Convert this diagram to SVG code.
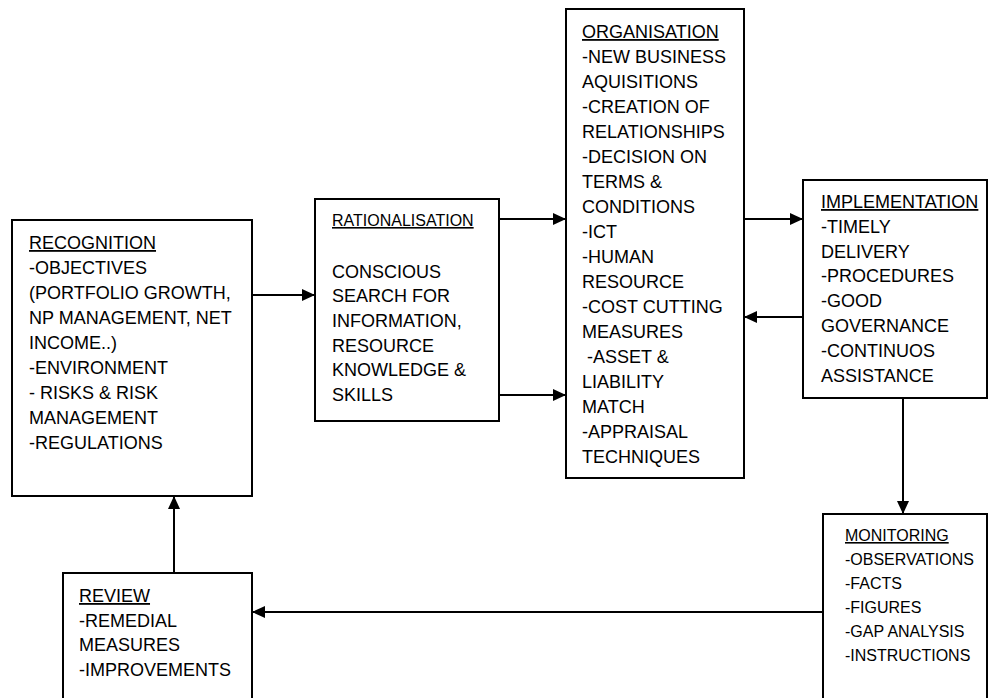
<svg xmlns="http://www.w3.org/2000/svg" width="989" height="698" viewBox="0 0 989 698">
<style>
.box{fill:#fff;stroke:#000;stroke-width:2}
.t{font-family:"Liberation Sans",Arial,sans-serif;font-size:18px;fill:#000}
.s{font-size:16px}
.u{text-decoration:underline}
.c{stroke:#000;stroke-width:2;fill:none;marker-end:url(#ah)}
</style>
<defs>
<marker id="ah" markerUnits="userSpaceOnUse" markerWidth="13" markerHeight="12" refX="13" refY="6" orient="auto">
<path d="M0,0 L13,6 L0,12 z" fill="#000"/>
</marker>
</defs>
<rect width="989" height="698" fill="#fff"/>
<g id="recognition">
<rect class="box" x="12" y="220" width="240" height="276"/>
<text class="t" x="29" y="249"><tspan class="u">RECOGNITION</tspan>
<tspan x="29" y="274">-OBJECTIVES</tspan>
<tspan x="29" y="299">(PORTFOLIO GROWTH,</tspan>
<tspan x="29" y="324">NP MANAGEMENT, NET</tspan>
<tspan x="29" y="349">INCOME..)</tspan>
<tspan x="29" y="374">-ENVIRONMENT</tspan>
<tspan x="29" y="399">- RISKS &amp; RISK</tspan>
<tspan x="29" y="424">MANAGEMENT</tspan>
<tspan x="29" y="449">-REGULATIONS</tspan></text>
</g>
<g id="rationalisation">
<rect class="box" x="315" y="199" width="184" height="222"/>
<text class="t s u" x="332" y="226">RATIONALISATION</text>
<text class="t" x="332" y="278">CONSCIOUS
<tspan x="332" y="302">SEARCH FOR</tspan>
<tspan x="332" y="327">INFORMATION,</tspan>
<tspan x="332" y="352">RESOURCE</tspan>
<tspan x="332" y="376">KNOWLEDGE &amp;</tspan>
<tspan x="332" y="401">SKILLS</tspan></text>
</g>
<g id="organisation">
<rect class="box" x="566" y="9" width="178" height="469"/>
<text class="t" x="582" y="38"><tspan class="u">ORGANISATION</tspan>
<tspan x="582" y="63">-NEW BUSINESS</tspan>
<tspan x="582" y="88">AQUISITIONS</tspan>
<tspan x="582" y="113">-CREATION OF</tspan>
<tspan x="582" y="138">RELATIONSHIPS</tspan>
<tspan x="582" y="163">-DECISION ON</tspan>
<tspan x="582" y="188">TERMS &amp;</tspan>
<tspan x="582" y="213">CONDITIONS</tspan>
<tspan x="582" y="238">-ICT</tspan>
<tspan x="582" y="263">-HUMAN</tspan>
<tspan x="582" y="288">RESOURCE</tspan>
<tspan x="582" y="313">-COST CUTTING</tspan>
<tspan x="582" y="338">MEASURES</tspan>
<tspan x="582" y="363" xml:space="preserve"> -ASSET &amp;</tspan>
<tspan x="582" y="388">LIABILITY</tspan>
<tspan x="582" y="413">MATCH</tspan>
<tspan x="582" y="438">-APPRAISAL</tspan>
<tspan x="582" y="463">TECHNIQUES</tspan></text>
</g>
<g id="implementation">
<rect class="box" x="803" y="180" width="184" height="218"/>
<text class="t" x="821" y="208"><tspan class="u">IMPLEMENTATION</tspan>
<tspan x="821" y="233">-TIMELY</tspan>
<tspan x="821" y="258">DELIVERY</tspan>
<tspan x="821" y="282">-PROCEDURES</tspan>
<tspan x="821" y="307">-GOOD</tspan>
<tspan x="821" y="332">GOVERNANCE</tspan>
<tspan x="821" y="357">-CONTINUOS</tspan>
<tspan x="821" y="382">ASSISTANCE</tspan></text>
</g>
<g id="monitoring">
<rect class="box" x="823" y="514" width="164" height="200"/>
<text class="t s" x="845" y="541"><tspan class="u">MONITORING</tspan>
<tspan x="845" y="565">-OBSERVATIONS</tspan>
<tspan x="845" y="589">-FACTS</tspan>
<tspan x="845" y="613">-FIGURES</tspan>
<tspan x="845" y="637">-GAP ANALYSIS</tspan>
<tspan x="845" y="661">-INSTRUCTIONS</tspan></text>
</g>
<g id="review">
<rect class="box" x="63" y="573" width="189" height="140"/>
<text class="t" x="79" y="602"><tspan class="u">REVIEW</tspan>
<tspan x="79" y="627">-REMEDIAL</tspan>
<tspan x="79" y="651">MEASURES</tspan>
<tspan x="79" y="676">-IMPROVEMENTS</tspan></text>
</g>
<g id="connectors">
<line class="c" x1="252" y1="295" x2="315" y2="295"/>
<line class="c" x1="499" y1="219" x2="566" y2="219"/>
<line class="c" x1="499" y1="395" x2="566" y2="395"/>
<line class="c" x1="744" y1="219" x2="803" y2="219"/>
<line class="c" x1="803" y1="317" x2="744" y2="317"/>
<line class="c" x1="903" y1="398" x2="903" y2="514"/>
<line class="c" x1="823" y1="612" x2="252" y2="612"/>
<line class="c" x1="174" y1="573" x2="174" y2="496"/>
</g>
</svg>
